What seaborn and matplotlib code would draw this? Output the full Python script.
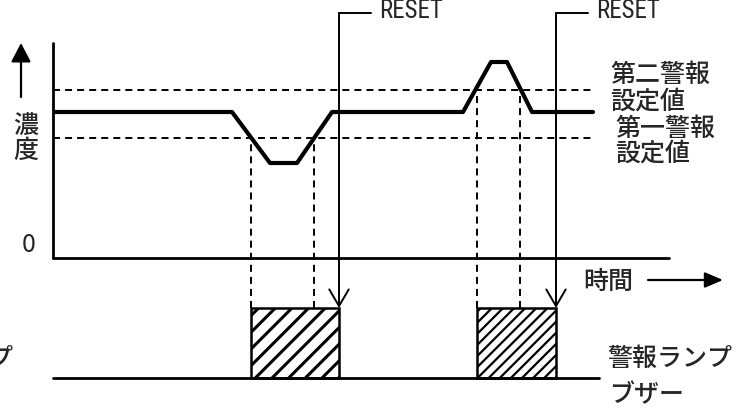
import matplotlib
matplotlib.use('Agg')
import matplotlib.pyplot as plt
from matplotlib import font_manager
import seaborn as sns

# all values are in figure pixel units (x to the right, y upwards)
time_pts = [55, 232, 270, 297, 332, 463, 491, 507, 532, 593]
conc_pts = [297, 297, 246, 246, 297, 297, 347, 347, 297, 297]

baseline = 151
alarm2_level = 319
alarm1_level = 271
graph_left = 53
graph_right = 669
axis_top = 366

alarm_on = [251, 477]            # time when alarm starts
alarm_cross = [314, 520]         # time when level crosses back
reset_at = [339, 556]            # RESET pushed
alarm_thresholds = [alarm1_level, alarm2_level]
hatches = ['//', '///']
hatch_widths = [2.2, 1.6]

lamp_bottom = 31
lamp_top = 101
reset_top = 396

sns.set_style('white')
plt.rcParams['font.family'] = ['Noto Sans CJK JP', 'DejaVu Sans']
plt.rcParams['font.weight'] = 'medium'

# pick a narrow latin font for the RESET labels if there is one
fonts = font_manager.fontManager.ttflist
names = {f.name for f in fonts}
narrow = None
for cand in ['Liberation Sans Narrow', 'Roboto Condensed', 'Open Sans Condensed', 'Noto Sans Condensed']:
    if cand in names:
        narrow = dict(family=cand, fontsize=18)
        break
if narrow is None:
    if any(f.name == 'DejaVu Sans' and f.stretch == 'condensed' for f in fonts):
        narrow = dict(family='DejaVu Sans', fontstretch='condensed', fontsize=16.5)
    else:
        narrow = dict(family='DejaVu Sans', fontsize=15)

fig = plt.figure(figsize=(7.42, 4.09), dpi=100)
ax = fig.add_axes([0, 0, 1, 1])
ax.set_xlim(0, 742)
ax.set_ylim(0, 409)
ax.axis('off')

dash = (3.6, 2.6)

# axes of the concentration graph
ax.plot([graph_left, graph_left], [baseline, axis_top], color='black', lw=2.0)
ax.plot([graph_left, graph_right], [baseline, baseline], color='black', lw=2.0)

# threshold lines
for lvl in alarm_thresholds:
    ax.plot([graph_left, 593], [lvl, lvl], color='black', lw=1.4, dashes=dash)

# concentration trace
sns.lineplot(x=time_pts, y=conc_pts, sort=False, color='black', lw=3.0, ax=ax)

# dashed drop lines to the lamp bars
for i in range(2):
    for t in [alarm_on[i], alarm_cross[i]]:
        ax.plot([t, t], [lamp_top, alarm_thresholds[i]], color='black', lw=1.4, dashes=dash)

# lamp / buzzer bars
ax.plot([graph_left, 599], [lamp_bottom, lamp_bottom], color='black', lw=2.0)
for i in range(2):
    with plt.rc_context({'hatch.linewidth': hatch_widths[i]}):
        bars = ax.bar(alarm_on[i], lamp_top - lamp_bottom, width=reset_at[i] - alarm_on[i],
                      bottom=lamp_bottom, align='edge', color='white', edgecolor='black',
                      hatch=hatches[i], lw=1.8)
    for b in bars:
        if hasattr(b, 'set_hatch_linewidth'):
            b.set_hatch_linewidth(hatch_widths[i])

# RESET arrows
for r in reset_at:
    ax.annotate('', xy=(r, lamp_top), xytext=(r, reset_top),
                arrowprops=dict(arrowstyle='->,head_length=1.2,head_width=0.7', lw=1.4,
                                color='black', shrinkA=0, shrinkB=0))
    ax.plot([r, r + 32], [reset_top, reset_top], color='black', lw=1.4)
    ax.text(r + 40, 398, 'RESET', ha='left', va='center', fontweight='normal', **narrow)

# texts
ax.text(26, 283, '濃', fontsize=18, ha='center', va='center')
ax.text(26, 258, '度', fontsize=18, ha='center', va='center')
ax.annotate('', xy=(21, 366), xytext=(21, 312),
            arrowprops=dict(arrowstyle='-|>,head_length=1.15,head_width=0.6', lw=1.6,
                            color='black', shrinkA=0, shrinkB=0))
ax.text(29, 164, '0', fontsize=18, ha='center', va='center', fontweight='normal')
ax.text(583, 127, '時間', fontsize=18, ha='left', va='center')
ax.annotate('', xy=(723, 129), xytext=(648, 129),
            arrowprops=dict(arrowstyle='-|>,head_length=1.1,head_width=0.47', lw=1.6,
                            color='black', shrinkA=0, shrinkB=0))
ax.text(610, 334, '第二警報', fontsize=18, ha='left', va='center')
ax.text(610, 307, '設定値', fontsize=18, ha='left', va='center')
ax.text(615, 280, '第一警報', fontsize=18, ha='left', va='center')
ax.text(615, 255, '設定値', fontsize=18, ha='left', va='center')
ax.text(607, 50, '警報ランプ', fontsize=18, ha='left', va='center')
ax.text(609, 14, 'ブザー', fontsize=18, ha='left', va='center')
ax.text(13, 50, '警報ランプ', fontsize=18, ha='right', va='center')

fig.savefig('out.png', dpi=100)
